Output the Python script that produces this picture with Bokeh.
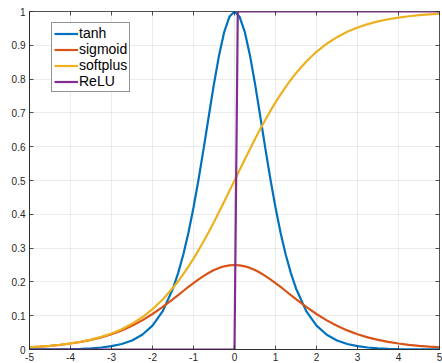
from bokeh.plotting import figure
from bokeh.models import Range1d, FixedTicker, LinearAxis, Legend, LegendItem
from bokeh.embed import file_html
from bokeh.resources import INLINE

# x samples
x = [-5, -4.75, -4.5, -4.25, -4, -3.75, -3.5, -3.25, -3, -2.75, -2.5, -2.25, -2, -1.75,
     -1.5, -1.375, -1.25, -1.125, -1, -0.875, -0.75, -0.625, -0.5, -0.375, -0.25, -0.125,
     0, 0.125, 0.25, 0.375, 0.5, 0.625, 0.75, 0.875, 1, 1.125, 1.25, 1.375, 1.5,
     1.75, 2, 2.25, 2.5, 2.75, 3, 3.25, 3.5, 3.75, 4, 4.25, 4.5, 4.75, 5]

tanh_vals = [0.0002, 0.0003, 0.0005, 0.0008, 0.0013, 0.0022, 0.0036, 0.0060, 0.0099, 0.0162,
             0.0266, 0.0436, 0.0707, 0.1136, 0.1807, 0.2260, 0.2804, 0.3448, 0.4200, 0.5044,
             0.5964, 0.6924, 0.7864, 0.8716, 0.9400, 0.9844, 1.0, 0.9844, 0.9400, 0.8716,
             0.7864, 0.6924, 0.5964, 0.5044, 0.4200, 0.3448, 0.2804, 0.2260, 0.1807, 0.1136,
             0.0707, 0.0436, 0.0266, 0.0162, 0.0099, 0.0060, 0.0036, 0.0022, 0.0013, 0.0008,
             0.0005, 0.0003, 0.0002]

sigmoid_vals = [0.0066, 0.0085, 0.0109, 0.0139, 0.0177, 0.0225, 0.0284, 0.0359, 0.0452, 0.0565,
                0.0701, 0.0862, 0.1050, 0.1261, 0.1491, 0.1611, 0.1731, 0.1850, 0.1966, 0.2076,
                0.2179, 0.2271, 0.2350, 0.2414, 0.2461, 0.2490, 0.25, 0.2490, 0.2461, 0.2414,
                0.2350, 0.2271, 0.2179, 0.2076, 0.1966, 0.1850, 0.1731, 0.1611, 0.1491, 0.1261,
                0.1050, 0.0862, 0.0701, 0.0565, 0.0452, 0.0359, 0.0284, 0.0225, 0.0177, 0.0139,
                0.0109, 0.0085, 0.0066]

softplus_vals = [0.0067, 0.0086, 0.0110, 0.0141, 0.0180, 0.0230, 0.0293, 0.0373, 0.0474, 0.0601,
                 0.0759, 0.0953, 0.1192, 0.1480, 0.1824, 0.2018, 0.2227, 0.2451, 0.2689, 0.2942,
                 0.3208, 0.3486, 0.3775, 0.4073, 0.4378, 0.4688, 0.5, 0.5312, 0.5622, 0.5927,
                 0.6225, 0.6514, 0.6792, 0.7058, 0.7311, 0.7549, 0.7773, 0.7982, 0.8176, 0.8520,
                 0.8808, 0.9047, 0.9241, 0.9399, 0.9526, 0.9627, 0.9707, 0.9770, 0.9820, 0.9859,
                 0.9890, 0.9914, 0.9933]

relu_x = [-5, 0, 0.08, 5]
relu_vals = [0, 0, 1, 1]

series_names = ["tanh", "sigmoid", "softplus", "ReLU"]
colors = ["#0072BD", "#D95319", "#EDB120", "#7E2F8E"]

x_ticks = [-5, -4, -3, -2, -1, 0, 1, 2, 3, 4, 5]
x_tick_labels = ["-5", "-4", "-3", "-2", "-1", "0", "1", "2", "3", "4", "5"]
y_ticks = [0, 0.1, 0.2, 0.3, 0.4, 0.5, 0.6, 0.7, 0.8, 0.9, 1]
y_tick_labels = ["0", "0.1", "0.2", "0.3", "0.4", "0.5", "0.6", "0.7", "0.8", "0.9", "1"]

AX = "#262626"
FONT = "Liberation Sans"

p = figure(x_range=Range1d(-5, 5), y_range=Range1d(0, 1),
           frame_width=410, frame_height=338,
           min_border_left=29, min_border_right=3, min_border_top=11, min_border_bottom=14,
           output_backend="svg", toolbar_location=None)
p.background_fill_color = "white"
p.border_fill_color = "white"
p.outline_line_color = AX
p.outline_line_width = 0.8

for ax, ticks, labels in ((p.xaxis[0], x_ticks, x_tick_labels), (p.yaxis[0], y_ticks, y_tick_labels)):
    ax.ticker = FixedTicker(ticks=ticks)
    ax.major_label_overrides = {t: l for t, l in zip(ticks, labels)}
    ax.major_tick_in = 4
    ax.major_tick_out = 0
    ax.minor_tick_line_color = None
    ax.axis_line_color = AX
    ax.axis_line_width = 0.8
    ax.major_tick_line_color = AX
    ax.major_tick_line_width = 0.8
    ax.major_label_text_color = AX
    ax.major_label_text_font = FONT
    ax.major_label_text_font_size = "10px"
p.xaxis.major_label_standoff = 3
p.yaxis.major_label_standoff = 4

for loc, ticks in (("right", y_ticks), ("above", x_ticks)):
    a = LinearAxis(ticker=FixedTicker(ticks=ticks),
                   major_label_text_font_size="0px", major_label_standoff=0,
                   major_tick_in=4, major_tick_out=0,
                   minor_tick_line_color=None, axis_line_color=None,
                   major_tick_line_color=AX, major_tick_line_width=0.8)
    a.major_label_overrides = {t: "" for t in ticks}
    p.add_layout(a, loc)

p.xgrid.ticker = FixedTicker(ticks=x_ticks)
p.ygrid.ticker = FixedTicker(ticks=y_ticks)
p.grid.grid_line_color = AX
p.grid.grid_line_alpha = 0.12
p.grid.grid_line_width = 0.8

r1 = p.line(x, tanh_vals, line_color=colors[0], line_width=2.2)
r2 = p.line(x, sigmoid_vals, line_color=colors[1], line_width=2.2)
r3 = p.line(x, softplus_vals, line_color=colors[2], line_width=2.2)
r4 = p.line(relu_x, relu_vals, line_color=colors[3], line_width=2.2)

legend = Legend(items=[LegendItem(label=n, renderers=[r]) for n, r in zip(series_names, [r1, r2, r3, r4])],
                location=(22, 257))
legend.label_text_font = FONT
legend.label_text_font_size = "14px"
legend.label_text_color = "black"
legend.label_height = 15
legend.glyph_height = 15
legend.glyph_width = 24
legend.label_standoff = 1
legend.spacing = 0
legend.padding = 2
legend.margin = 0
legend.border_line_color = AX
legend.border_line_width = 0.8
legend.background_fill_color = "white"
legend.background_fill_alpha = 1
p.add_layout(legend, "center")

open("out.html", "w").write(file_html(p, INLINE))
